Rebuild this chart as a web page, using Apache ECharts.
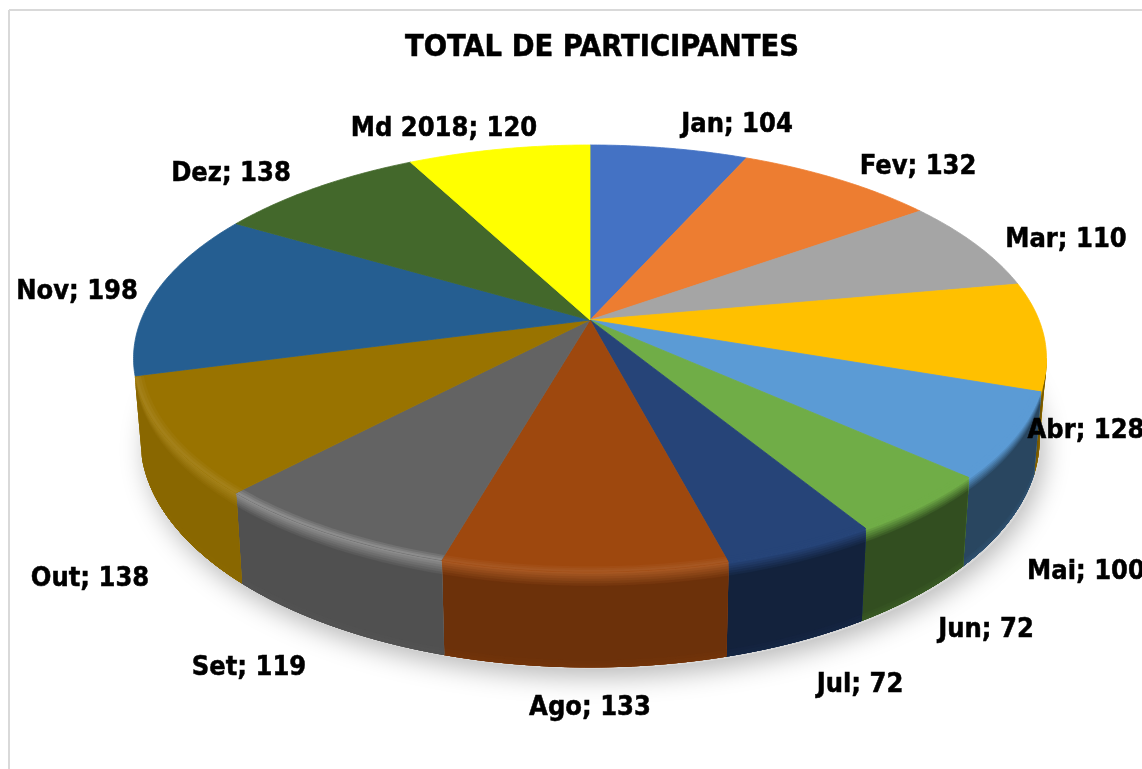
<!DOCTYPE html>
<html>
<head>
<meta charset="utf-8">
<title>Total de participantes</title>
<style>
  html, body { margin: 0; padding: 0; background: #fff; }
  #chart { width: 1142px; height: 769px; overflow: hidden; }
</style>
<script src="https://cdn.jsdelivr.net/npm/echarts@6/dist/echarts.min.js"></script>
</head>
<body>
<div id="chart"></div>
<script>
// dados do grafico
const categories = ["Jan", "Fev", "Mar", "Abr", "Mai", "Jun", "Jul", "Ago", "Set", "Out", "Nov", "Dez", "Md 2018"];
const values = [104, 132, 110, 128, 100, 72, 72, 133, 119, 138, 198, 138, 120];
const sliceColors = ["#4472C4", "#ED7D31", "#A5A5A5", "#FFC000", "#5B9BD5", "#70AD47", "#264478", "#9E480E", "#636363", "#997300", "#255E91", "#43682B", "#FFFF00"];
// centro de cada rotulo, colocados a mao como no original
const labelSpots = [[737, 125], [918, 167], [1066, 240], [1086, 431], [1086, 572], [986, 630], [860, 685], [590, 708], [249, 668], [90, 579], [77, 292], [231, 174], [444, 129]];

const FONT = '"DejaVu Sans Condensed", "DejaVu Sans", sans-serif';

// perspectiva do disco (pizza 3D do Excel)
const CX = 590, CY = 320, RX = 449, RY = 206.5, K = 0.18, DEPTH = 78;
const FRONT_FROM = Math.acos(-K);
// do lado esquerdo a parede acaba junto com a fatia Out
const FRONT_TO = 2 * Math.PI - FRONT_FROM - 0.085;

const total = values.reduce((a, b) => a + b, 0);
let acc = 0;
const sliceData = values.map((v) => {
  const start = (acc / total) * 2 * Math.PI;
  acc += v;
  return [v, start, (acc / total) * 2 * Math.PI];
});

function topPoint(a, r) {
  const den = 1 + K * r * Math.cos(a);
  return [CX + (RX * r * Math.sin(a)) / den, CY - (RY * r * Math.cos(a)) / den];
}
function wallPoint(a, d) {
  const den = 1 + K * Math.cos(a);
  const shrink = 1 - 0.016 * d;
  return [CX + (shrink * RX * Math.sin(a)) / den, CY - (RY * Math.cos(a)) / den + (d * DEPTH) / den];
}
function arcAngles(a0, a1) {
  const n = Math.max(2, Math.ceil((a1 - a0) / 0.01));
  const out = [];
  for (let i = 0; i <= n; i++) out.push(a0 + ((a1 - a0) * i) / n);
  return out;
}
function mix(c1, c2, t) {
  const p = (c) => [1, 3, 5].map((i) => parseInt(c.substr(i, 2), 16));
  const a = p(c1), b = p(c2);
  return "rgb(" + a.map((v, i) => Math.round(v + (b[i] - v) * t)).join(",") + ")";
}
function toHex(rgb) {
  const n = rgb.match(/\d+/g).map(Number);
  return "#" + n.map((v) => v.toString(16).padStart(2, "0")).join("");
}
function wallShade(mid) {
  const s = Math.sin(mid);
  return s <= 0 ? 0.68 - 0.25 * s : Math.max(0.45, 0.68 - 0.45 * s);
}
function highlight(mid) {
  return Math.max(0, 0.28 - 0.45 * Math.abs(Math.sin(mid) + 0.45));
}

// sombra debaixo do disco
function renderShadow() {
  const pts = arcAngles(0, 2 * Math.PI).map((a) => {
    const p = wallPoint(a, 1);
    return [p[0] + 2, p[1] + 2];
  });
  return {
    type: "polygon",
    shape: { points: pts },
    style: { fill: "#d8d8d8", shadowBlur: 26, shadowColor: "rgba(0,0,0,0.28)", shadowOffsetX: 3, shadowOffsetY: 8 },
  };
}

// parede lateral, em faixas do topo para baixo
function renderWall(params, api) {
  const a0 = Math.max(api.value(1), FRONT_FROM);
  const a1 = Math.min(api.value(2), FRONT_TO);
  if (a1 <= a0) return { type: "group", children: [] };
  const base = sliceColors[params.dataIndex];
  const mid = (api.value(1) + api.value(2)) / 2;
  const dark = toHex(mix(base, "#000000", 1 - wallShade(mid)));
  const hl = toHex(mix(base, "#ffffff", highlight(mid)));
  const angles = arcAngles(a0, a1);
  const children = [];
  const band = [0, 0.025, 0.05, 0.075, 0.1, 0.125, 0.15, 0.93, 0.96, 0.985];
  band.forEach((d) => {
    let fill;
    if (d <= 0.15) fill = mix(hl, dark, d / 0.15);
    else fill = mix(dark, base, 0.14 * (d - 0.9) * 10);
    const upper = angles.map((a) => wallPoint(a, d));
    const lower = angles.map((a) => wallPoint(a, 1)).reverse();
    children.push({
      type: "polygon",
      shape: { points: upper.concat(lower) },
      style: { fill: fill, stroke: fill, lineWidth: 0.5 },
    });
  });
  return { type: "group", children: children };
}

// face de cima
function renderTop(params, api) {
  const a0 = api.value(1), a1 = api.value(2);
  const base = sliceColors[params.dataIndex];
  const mid = (a0 + a1) / 2;
  const hl = toHex(mix(base, "#ffffff", highlight(mid)));
  const angles = arcAngles(a0, a1);
  const children = [{
    type: "polygon",
    shape: { points: [[CX, CY]].concat(angles.map((a) => topPoint(a, 1))) },
    style: { fill: base, stroke: base, lineWidth: 0.8 },
  }];
  const f0 = Math.max(a0, FRONT_FROM), f1 = Math.min(a1, FRONT_TO);
  if (f1 > f0) {
    const front = arcAngles(f0, f1);
    [0.982, 0.988, 0.994].forEach((r, i) => {
      const fill = mix(base, hl, (i + 1) / 3);
      children.push({
        type: "polygon",
        shape: { points: front.map((a) => topPoint(a, r)).concat(front.map((a) => topPoint(a, 1)).reverse()) },
        style: { fill: fill },
      });
    });
  }
  return { type: "group", children: children };
}

function renderLabel(params) {
  const i = params.dataIndex;
  return {
    type: "text",
    style: {
      text: categories[i] + "; " + values[i],
      x: labelSpots[i][0],
      y: labelSpots[i][1],
      align: "center",
      verticalAlign: "middle",
      font: "bold 27px " + FONT,
      fill: "#000",
      stroke: "#000",
      lineWidth: 0.5,
    },
  };
}

const option = {
  backgroundColor: "#fff",
  animation: false,
  title: {
    text: "TOTAL DE PARTICIPANTES",
    left: 597,
    top: 28,
    textAlign: "center",
    textStyle: { color: "#000", fontFamily: FONT, fontWeight: "bold", fontSize: 30.5, textBorderColor: "#000", textBorderWidth: 0.5 },
  },
  graphic: [
    { type: "line", silent: true, shape: { x1: 9, y1: 10, x2: 1142, y2: 10 }, style: { stroke: "#D9D9D9", lineWidth: 2 } },
    { type: "line", silent: true, shape: { x1: 9, y1: 10, x2: 9, y2: 769 }, style: { stroke: "#D9D9D9", lineWidth: 2 } },
  ],
  series: [
    { type: "custom", coordinateSystem: "none", silent: true, z: 1, data: [[total]], renderItem: renderShadow },
    { type: "custom", coordinateSystem: "none", silent: true, z: 2, data: sliceData, renderItem: renderWall },
    { type: "custom", coordinateSystem: "none", silent: true, z: 3, data: sliceData, renderItem: renderTop },
    { type: "custom", coordinateSystem: "none", silent: true, z: 4, data: sliceData, renderItem: renderLabel },
  ],
};

const myChart = echarts.init(document.getElementById("chart"));
myChart.setOption(option);
</script>
</body>
</html>
